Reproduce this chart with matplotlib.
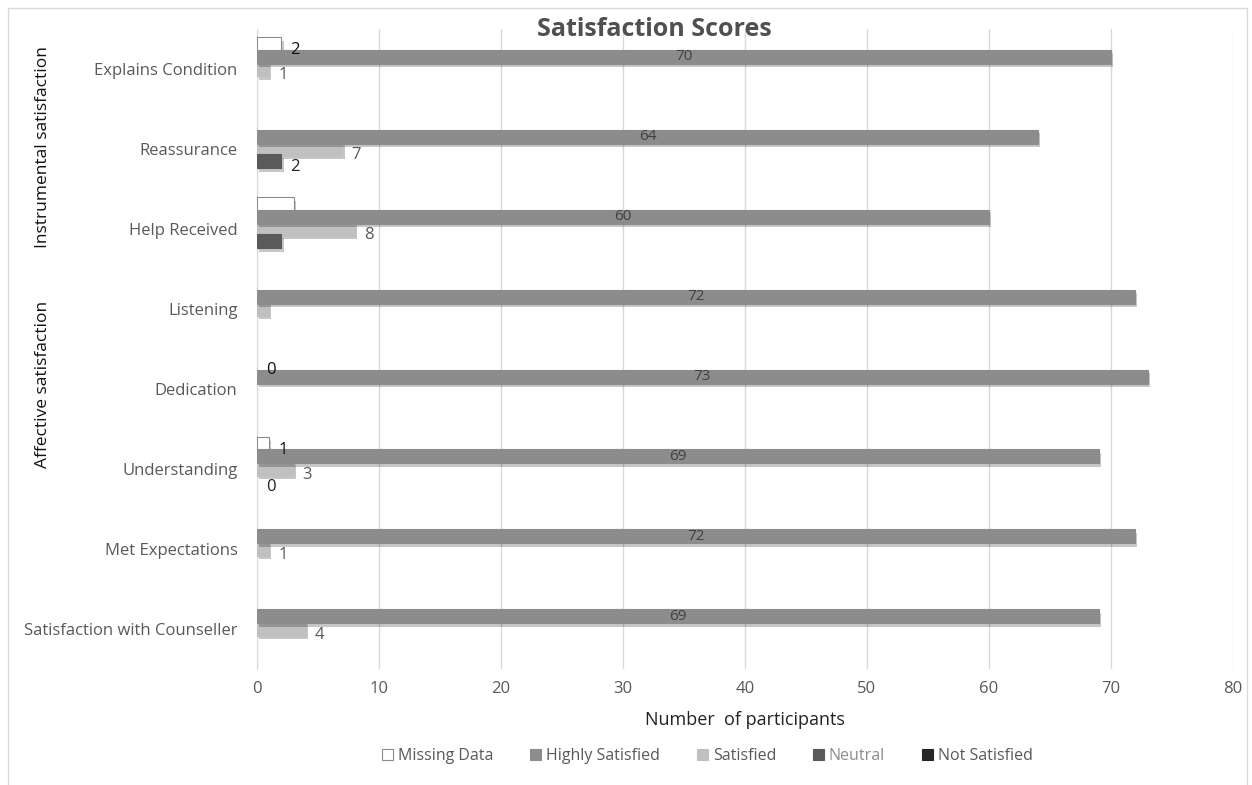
import numpy as np
import matplotlib
matplotlib.use('Agg')
import matplotlib.pyplot as plt
import matplotlib.patheffects as pe
from matplotlib.patches import Rectangle, Patch

plt.rcParams['font.family'] = ['Open Sans', 'DejaVu Sans']

categories = ['Explains Condition', 'Reassurance', 'Help Received', 'Listening',
              'Dedication', 'Understanding', 'Met Expectations',
              'Satisfaction with Counseller']

missing = [2, 0, 3, 0, 0, 1, 0, 0]
highly = [70, 64, 60, 72, 73, 69, 72, 69]
satisfied = [1, 7, 8, 1, 0, 3, 1, 4]
neutral = [0, 2, 2, 0, 0, 0, 0, 0]
not_satisfied = [0, 0, 0, 0, 0, 0, 0, 0]

series_names = ['Missing Data', 'Highly Satisfied', 'Satisfied', 'Neutral', 'Not Satisfied']
series = [missing, highly, satisfied, neutral, not_satisfied]
colors = ['white', '#8c8c8c', '#c0c0c0', '#5a5a5a', '#262626']
edges = ['#8c8c8c', '#8c8c8c', '#c0c0c0', '#5a5a5a', '#262626']

# which small values get a label (series index -> category indices)
shown = {0: [0, 4, 5], 2: [0, 1, 2, 5, 6, 7], 3: [1, 5]}

fig = plt.figure(figsize=(12.52, 7.85), dpi=100)
ax = fig.add_axes([0.2053, 0.148, 0.7795, 0.815])

y = np.arange(len(categories))
step = 0.155
h = 0.175
shadow = [pe.SimplePatchShadow(offset=(1.5, -2.5), shadow_rgbFace='#000000', alpha=0.22), pe.Normal()]

for j, vals in enumerate(series):
    vals = np.array(vals)
    keep = vals > 0
    if not keep.any():
        continue
    bars = ax.barh(y[keep] + (j - 2) * step, vals[keep], height=h, color=colors[j],
                   edgecolor=edges[j], linewidth=0.8, zorder=3 + (j == 1))
    for b in bars:
        b.set_path_effects(shadow)

# labels for highly satisfied, centred in the bar
for i, v in enumerate(highly):
    ax.text(v / 2, y[i] - step, str(v), ha='center', va='center',
            fontsize=11, color='#404040', zorder=6)

label_colors = {0: '#111111', 2: '#595959', 3: '#222222'}
for j, idx in shown.items():
    for i in idx:
        v = series[j][i]
        ax.annotate(str(v), (v, y[i] + (j - 2) * step), xytext=(9, -6),
                    textcoords='offset pixels', ha='left', va='center',
                    fontsize=12, color=label_colors[j], zorder=6)

ax.set_xlim(0, 80)
ax.set_ylim(len(categories) - 0.5, -0.5)
ax.set_xticks(np.arange(0, 81, 10))
ax.set_yticks(y)
ax.set_yticklabels(categories, fontsize=12.6)
ax.tick_params(axis='both', length=0, labelsize=12, colors='#595959')
ax.tick_params(axis='x', pad=9)
ax.tick_params(axis='y', pad=14)
ax.grid(axis='x', color='#d9d9d9', linewidth=1, zorder=0)
for s in ['top', 'right', 'bottom']:
    ax.spines[s].set_visible(False)
ax.spines['left'].set_color('#d9d9d9')

ax.set_xlabel('Number  of participants', fontsize=13, color='#222222', labelpad=10)

fig.text(0.523, 0.962, 'Satisfaction Scores', ha='center', va='center',
         fontsize=18, fontweight='bold', color='#505050')

fig.text(0.034, 0.813, 'Instrumental satisfaction', rotation=90, ha='center',
         va='center', fontsize=12.5, color='#111111')
fig.text(0.034, 0.51, 'Affective satisfaction', rotation=90, ha='center',
         va='center', fontsize=12.5, color='#111111')

handles = [Patch(facecolor=colors[j], edgecolor=edges[j], linewidth=0.8)
           for j in range(len(series_names))]
leg = fig.legend(handles, series_names, loc='center', bbox_to_anchor=(0.565, 0.037),
                 ncol=5, frameon=False, fontsize=11.5, handlelength=0.7,
                 handleheight=0.7, handletextpad=0.3, columnspacing=2.3)
for t in leg.get_texts():
    t.set_color('#595959')
leg.get_texts()[3].set_color('#8c8c8c')

fig.patches.append(Rectangle((0.006, -0.01), 0.99, 1.0, transform=fig.transFigure,
                             fill=False, edgecolor='#d9d9d9', linewidth=1))

fig.savefig('out.png', dpi=100)
